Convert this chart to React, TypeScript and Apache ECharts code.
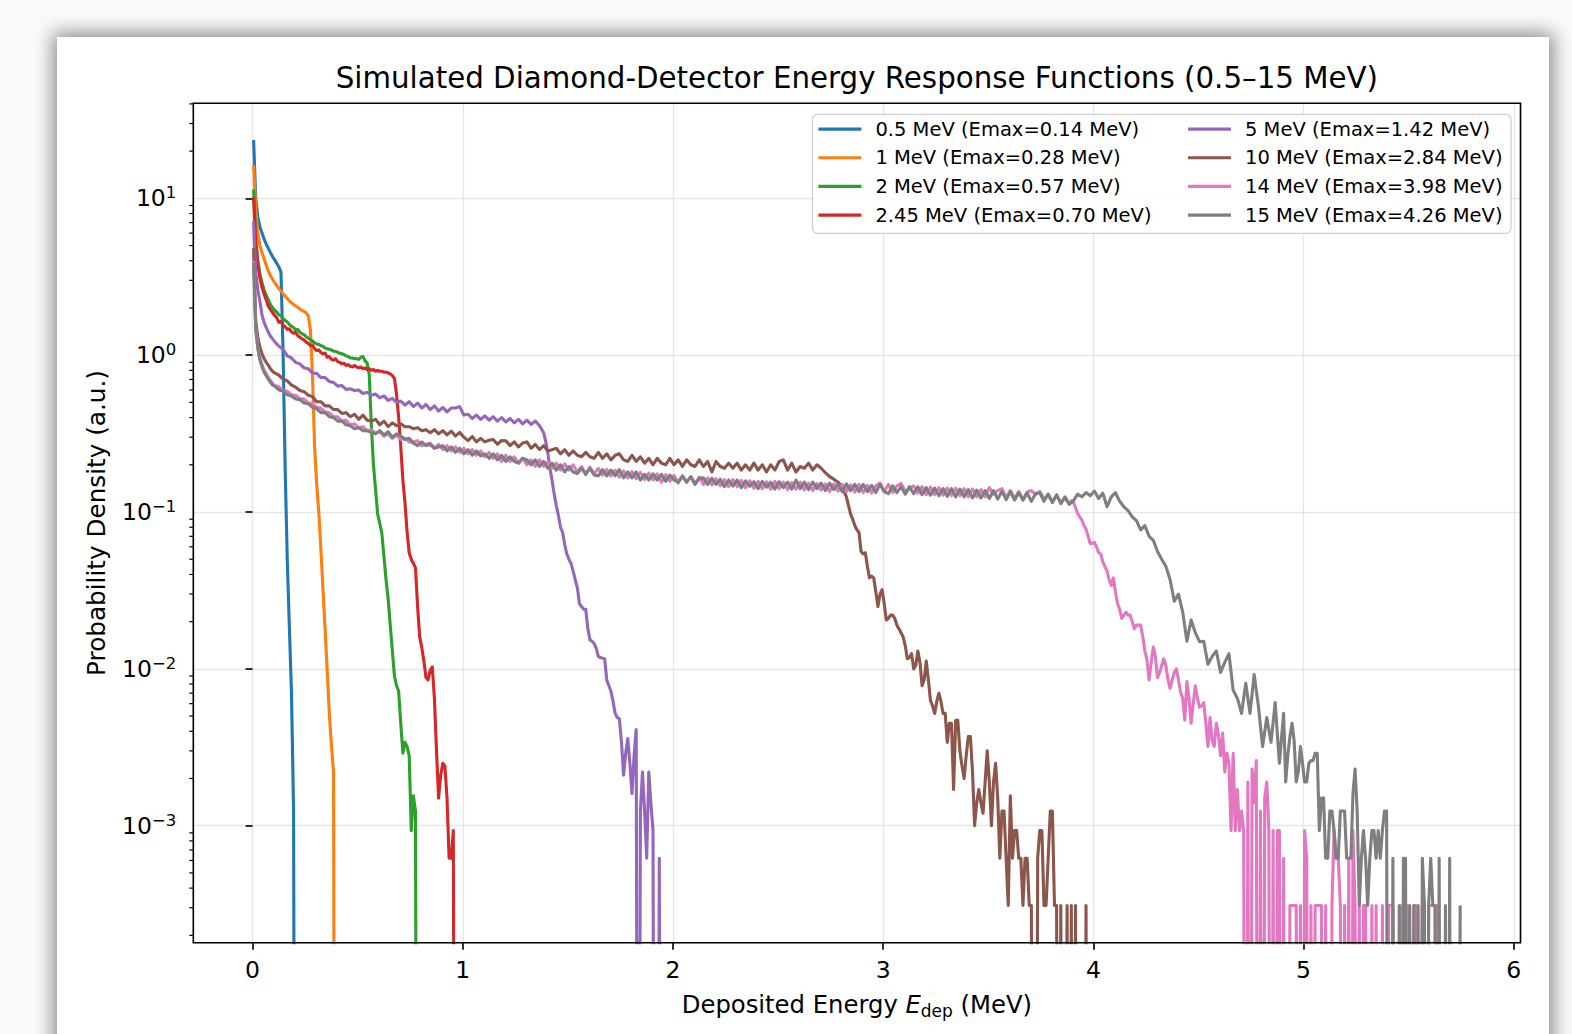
import React, { useEffect, useRef } from "react";
import * as echarts from "echarts";

// [first bin centre (MeV), bin width (MeV), probability densities]; 0 = empty bin
type Segment = [number, number, number[]];

const TITLE = "Simulated Diamond-Detector Energy Response Functions (0.5\u201315 MeV)";
const Y_NAME = "Probability Density (a.u.)";

const SERIES_NAMES = [
  "0.5 MeV (Emax=0.14 MeV)",
  "1 MeV (Emax=0.28 MeV)",
  "2 MeV (Emax=0.57 MeV)",
  "2.45 MeV (Emax=0.70 MeV)",
  "5 MeV (Emax=1.42 MeV)",
  "10 MeV (Emax=2.84 MeV)",
  "14 MeV (Emax=3.98 MeV)",
  "15 MeV (Emax=4.26 MeV)",
];

const X_MIN = -0.282;
const X_MAX = 6.032;
const Y_MIN = 1.795e-4;
const Y_MAX = 40.35;

const E_0_5: Segment[] = [
  [0.005, 0.01, [23.5, 10.0, 7.6, 6.6, 6.0, 5.5, 5.1, 4.8, 4.5, 4.25, 4.05, 3.85, 3.65, 3.4, 1.07, 0.19, 0.05, 0.0184, 0.0071, 0.00126, 0]],
];

const E_1: Segment[] = [
  [0.005, 0.01, [
    16.3, 8.5, 6.0, 5.0, 4.5, 4.1, 3.75, 3.45, 3.2, 3.05,
    2.9, 2.78, 2.66, 2.56, 2.46, 2.38, 2.3, 2.22, 2.16, 2.1,
    2.06, 2.02, 1.97, 1.93, 1.9, 1.86, 1.78, 1.45, 0.75, 0.26,
    0.15, 0.1, 0.058, 0.032, 0.018, 0.0098, 0.0052, 0.0033, 0.0022, 0,
  ]],
];

const E_2: Segment[] = [
  [0.005, 0.01, [
    11.4, 5.5, 4.0, 3.3, 2.9, 2.6, 2.4, 2.25, 2.1, 2.0,
    1.94, 1.88, 1.81, 1.78, 1.72, 1.66, 1.63, 1.57, 1.53, 1.5,
    1.45, 1.46, 1.4, 1.37, 1.35, 1.31, 1.28, 1.26, 1.23, 1.2,
    1.18, 1.17, 1.15, 1.14, 1.11, 1.1, 1.09, 1.08, 1.06, 1.06,
    1.04, 1.03, 1.02, 1.01, 0.99, 0.98, 0.96, 0.96, 0.95, 0.95,
    0.94, 0.97, 0.98, 0.92, 0.89, 0.75, 0.36, 0.2, 0.14, 0.097,
    0.085, 0.073, 0.052, 0.037, 0.028, 0.019, 0.013, 0.009, 0.0078, 0.0072,
    0.0045, 0.0029, 0.0034, 0.0032, 0.0028, 0.00093, 0.00155, 0.00124, 0,
  ]],
];

const E_2_45: Segment[] = [
  [0.005, 0.01, [
    10.2, 5.3, 3.8, 3.1, 2.7, 2.45, 2.25, 2.05, 1.95, 1.87,
    1.79, 1.73, 1.62, 1.64, 1.56, 1.52, 1.46, 1.47, 1.41, 1.38,
    1.4, 1.33, 1.3, 1.27, 1.25, 1.21, 1.19, 1.15, 1.16, 1.1,
    1.07, 1.08, 1.04, 1.02, 1.03, 0.97, 0.98, 0.94, 0.93, 0.95,
    0.91, 0.9, 0.88, 0.89, 0.86, 0.87, 0.85, 0.84, 0.86, 0.84,
    0.83, 0.84, 0.82, 0.83, 0.81, 0.82, 0.8, 0.81, 0.79, 0.8,
    0.79, 0.79, 0.78, 0.78, 0.77, 0.76, 0.74, 0.71, 0.56, 0.4,
    0.26, 0.16, 0.115, 0.075, 0.055, 0.05, 0.047, 0.044, 0.025, 0.016,
    0.0137, 0.0112, 0.0088, 0.0085, 0.0098, 0.0103, 0.0065, 0.003, 0.0015, 0.0021,
    0.0025, 0.0024, 0.0015, 0.00062, 0.00062, 0.00093, 0,
  ]],
];

const E_5: Segment[] = [
  [0.005, 0.01, [7.1, 3.4, 2.6, 2.2, 1.8, 1.62, 1.5, 1.4, 1.32, 1.27]],
  [0.105, 0.02, [
    1.22, 1.14, 1.09, 0.99, 0.96, 0.9, 0.88, 0.83, 0.82, 0.77,
    0.765, 0.72, 0.72, 0.68, 0.67, 0.635, 0.64, 0.605, 0.61, 0.595,
    0.6, 0.57, 0.58, 0.555, 0.565, 0.535, 0.55, 0.515, 0.53, 0.5,
    0.51, 0.48, 0.505, 0.47, 0.495, 0.46, 0.485, 0.45, 0.475, 0.44,
    0.465, 0.435, 0.46, 0.46, 0.47, 0.415, 0.42, 0.395, 0.415, 0.39,
    0.41, 0.385, 0.405, 0.38, 0.4, 0.375, 0.395, 0.37, 0.39, 0.365,
    0.385, 0.362, 0.38, 0.355, 0.32,
  ]],
  [1.395, 0.01, [
    0.28, 0.235, 0.19, 0.158, 0.13, 0.11, 0.095, 0.08, 0.074, 0.062,
    0.054, 0.05, 0.047, 0.042, 0.037, 0.033, 0.026, 0.025, 0.024, 0.024,
    0.018, 0.0153, 0.015, 0.0145, 0.0135, 0.012, 0.0118, 0.0117, 0.0116, 0.0085,
    0.0078, 0.0072, 0.0062, 0.0052, 0.0049, 0.0048, 0.0034, 0.0021, 0.0029, 0.0036,
    0.0025, 0.0016, 0.0028, 0.0041, 0, 0.00124, 0.0022, 0.00124, 0.00062, 0.0022,
    0.0014, 0.00093, 0, 0, 0.00062, 0,
  ]],
];

const E_10: Segment[] = [
  [0.005, 0.01, [4.8, 1.65, 1.3, 1.12, 1.02, 0.95, 0.9, 0.86, 0.82, 0.79]],
  [0.105, 0.02, [
    0.77, 0.745, 0.705, 0.685, 0.645, 0.625, 0.595, 0.585, 0.555, 0.545,
    0.505, 0.505, 0.475, 0.475, 0.45, 0.45, 0.425, 0.43, 0.405, 0.42,
    0.39, 0.415, 0.385, 0.38, 0.39, 0.36, 0.38, 0.35, 0.37, 0.355,
    0.365, 0.35, 0.35, 0.34, 0.345, 0.33, 0.335, 0.32, 0.335, 0.315,
    0.33, 0.31, 0.328, 0.305, 0.322, 0.3, 0.285, 0.303, 0.28, 0.295,
    0.28, 0.287, 0.29, 0.27, 0.286, 0.285, 0.265, 0.28, 0.26, 0.275,
    0.28, 0.255, 0.27, 0.25, 0.265, 0.245, 0.25, 0.255, 0.235, 0.25,
    0.23, 0.245, 0.23, 0.225, 0.24, 0.225, 0.22, 0.24, 0.22, 0.235,
    0.215, 0.23, 0.235, 0.215, 0.21, 0.23, 0.21, 0.225, 0.205, 0.22,
    0.2, 0.22, 0.205, 0.2, 0.22, 0.2, 0.215, 0.195, 0.215, 0.2,
    0.195, 0.215, 0.195, 0.21, 0.18, 0.21, 0.195, 0.19, 0.205, 0.19,
    0.205, 0.185, 0.2, 0.185, 0.205, 0.185, 0.2, 0.18, 0.2, 0.185,
    0.21, 0.215, 0.185, 0.205, 0.18, 0.195, 0.19, 0.205, 0.185, 0.2,
    0.19, 0.178, 0.168, 0.162, 0.155, 0.145, 0.125, 0.097,
  ]],
  [2.855, 0.01, [
    0.09, 0.082, 0.077, 0.074, 0.056, 0.054, 0.055, 0.045, 0.038, 0.039,
    0.038, 0.031, 0.025, 0.03, 0.032, 0.026, 0.0205, 0.021, 0.022, 0.022,
    0.021, 0.019, 0.018, 0.017, 0.016, 0.014, 0.0116, 0.0118, 0.0125, 0.01,
    0.0105, 0.013, 0.011, 0.0078, 0.0085, 0.0112, 0.0085, 0.0063, 0.0058, 0.0052,
    0.0062, 0.007, 0.0062, 0.0052, 0.0052, 0.0034, 0.0045, 0.0045, 0.0017, 0.0047,
    0.0047, 0.003, 0.0024, 0.002, 0.0028, 0.0037, 0.0037, 0.0022, 0.001, 0.0014,
    0.0017, 0.0014, 0.0012, 0.0019, 0.003, 0.0019, 0.001, 0.0019, 0.0025, 0.0015,
    0.00062, 0.00124, 0.00124, 0.00062, 0.00031, 0.00155, 0.00062, 0.00093, 0.00093, 0.00062,
    0.00062, 0.00031, 0.00062, 0.00062, 0.00031, 0.00031, 0, 0, 0.00062, 0.00093,
    0.00093, 0.00031, 0.00031, 0.00062, 0.00124, 0.00124, 0.00031, 0.00031, 0, 0.00031,
    0, 0, 0.00031, 0, 0.00031, 0, 0.00031, 0, 0, 0,
    0, 0.00031, 0,
  ]],
];

const E_14: Segment[] = [
  [0.005, 0.01, [4.0, 1.5, 1.12, 0.96, 0.87, 0.8, 0.76, 0.72, 0.69, 0.66]],
  [0.105, 0.02, [
    0.64, 0.63, 0.595, 0.59, 0.56, 0.555, 0.53, 0.525, 0.495, 0.49,
    0.465, 0.46, 0.435, 0.43, 0.405, 0.405, 0.38, 0.385, 0.36, 0.365,
    0.345, 0.35, 0.33, 0.335, 0.318, 0.325, 0.305, 0.315, 0.295, 0.31,
    0.29, 0.295, 0.28, 0.28, 0.285, 0.265, 0.27, 0.275, 0.255, 0.27,
    0.25, 0.265, 0.245, 0.26, 0.24, 0.255, 0.235, 0.25, 0.23, 0.245,
    0.225, 0.24, 0.22, 0.235, 0.21, 0.23, 0.21, 0.225, 0.205, 0.22,
    0.2, 0.215, 0.195, 0.215, 0.195, 0.21, 0.19, 0.205, 0.185, 0.203,
    0.185, 0.2, 0.18, 0.195, 0.173, 0.193, 0.175, 0.19, 0.172, 0.187,
    0.17, 0.185, 0.167, 0.183, 0.165, 0.181, 0.163, 0.179, 0.161, 0.177,
    0.16, 0.175, 0.155, 0.173, 0.157, 0.171, 0.153, 0.169, 0.155, 0.168,
    0.152, 0.167, 0.15, 0.165, 0.149, 0.163, 0.147, 0.161, 0.145, 0.161,
    0.145, 0.159, 0.143, 0.158, 0.142, 0.157, 0.141, 0.156, 0.14, 0.157,
    0.141, 0.155, 0.139, 0.154, 0.14, 0.155, 0.138, 0.153, 0.137, 0.152,
    0.138, 0.151, 0.135, 0.151, 0.136, 0.15, 0.135, 0.149, 0.134, 0.15,
    0.133, 0.148, 0.132, 0.147, 0.153, 0.135, 0.15, 0.133, 0.147, 0.152,
    0.135, 0.141, 0.147, 0.132, 0.145, 0.129, 0.144, 0.129, 0.143, 0.128,
    0.142, 0.127, 0.142, 0.127, 0.141, 0.125, 0.14, 0.125, 0.139, 0.125,
    0.143, 0.13, 0.137, 0.141, 0.123, 0.137, 0.122, 0.135, 0.12, 0.134,
    0.137, 0.129, 0.135, 0.121, 0.129, 0.116, 0.127, 0.115, 0.122, 0.113,
  ]],
  [3.895, 0.01, [
    0.118, 0.115, 0.107, 0.098, 0.093, 0.089, 0.082, 0.078, 0.07, 0.063,
    0.063, 0.064, 0.06, 0.055, 0.054, 0.048, 0.045, 0.042, 0.037, 0.034,
    0.038, 0.031, 0.026, 0.024, 0.021, 0.022, 0.023, 0.022, 0.022, 0.02,
    0.018, 0.019, 0.019, 0.019, 0.016, 0.013, 0.0114, 0.0085, 0.011, 0.0138,
    0.012, 0.0088, 0.0095, 0.0105, 0.0116, 0.0105, 0.0085, 0.0075, 0.0085, 0.0095,
    0.01, 0.0085, 0.0071, 0.0065, 0.0047, 0.0083, 0.0065, 0.0045, 0.006, 0.0078,
    0.0065, 0.0057, 0.0058, 0.0061, 0.0045, 0.0032, 0.0049, 0.0035, 0.0032, 0.0045,
    0.0038, 0.0028, 0.0039, 0.0022, 0.0029, 0.0025, 0.00093, 0.0029, 0.00093, 0.0017,
    0.00093, 0.00124, 0.00093, 0, 0.0019, 0, 0.0023, 0.0014, 0.0026, 0,
    0.00124, 0, 0.0015, 0.0019, 0.00093, 0, 0.00093, 0, 0.00093, 0.00093,
    0, 0.00062, 0, 0, 0.00031, 0.00031, 0.00031, 0.00031, 0, 0.00031,
    0, 0.00093, 0.00062, 0, 0.00031, 0, 0.00031, 0.00031, 0.00031, 0.00031,
    0, 0.00031, 0, 0, 0.00031, 0.00093, 0.00062, 0.00062, 0.00031, 0,
    0.00031, 0, 0.00062, 0, 0.00093, 0.00031, 0, 0.00031, 0, 0.00031,
    0.00031, 0, 0, 0.00031, 0, 0.00031, 0, 0, 0.00031, 0,
    0, 0.00031, 0.00031, 0.00031, 0, 0, 0, 0.00031, 0, 0,
    0.00031, 0, 0, 0.00031, 0.00031, 0, 0, 0.00031, 0, 0,
    0.00031, 0.00031, 0.00031, 0.00031, 0.00031, 0,
  ]],
];

const E_15: Segment[] = [
  [0.005, 0.01, [3.9, 1.45, 1.1, 0.93, 0.84, 0.78, 0.74, 0.7, 0.67, 0.645]],
  [0.105, 0.02, [
    0.635, 0.6, 0.59, 0.56, 0.55, 0.525, 0.52, 0.495, 0.49, 0.465,
    0.455, 0.43, 0.43, 0.405, 0.4, 0.38, 0.38, 0.36, 0.355, 0.34,
    0.345, 0.33, 0.33, 0.322, 0.315, 0.33, 0.31, 0.325, 0.3, 0.315,
    0.305, 0.29, 0.295, 0.275, 0.265, 0.28, 0.265, 0.27, 0.255, 0.26,
    0.265, 0.245, 0.26, 0.24, 0.255, 0.235, 0.25, 0.23, 0.245, 0.228,
    0.235, 0.22, 0.235, 0.215, 0.23, 0.21, 0.225, 0.21, 0.205, 0.22,
    0.215, 0.2, 0.215, 0.195, 0.21, 0.19, 0.205, 0.185, 0.2, 0.18,
    0.195, 0.18, 0.176, 0.19, 0.175, 0.19, 0.172, 0.17, 0.186, 0.17,
    0.185, 0.17, 0.186, 0.165, 0.18, 0.165, 0.18, 0.16, 0.174, 0.16,
    0.175, 0.16, 0.174, 0.157, 0.172, 0.16, 0.155, 0.17, 0.155, 0.168,
    0.15, 0.164, 0.165, 0.15, 0.164, 0.15, 0.162, 0.145, 0.16, 0.146,
    0.16, 0.143, 0.158, 0.146, 0.156, 0.141, 0.157, 0.144, 0.155, 0.14,
    0.156, 0.143, 0.155, 0.14, 0.16, 0.141, 0.155, 0.139, 0.155, 0.141,
    0.153, 0.137, 0.153, 0.139, 0.151, 0.135, 0.151, 0.137, 0.15, 0.135,
    0.15, 0.135, 0.148, 0.133, 0.15, 0.135, 0.131, 0.147, 0.133, 0.145,
    0.13, 0.145, 0.131, 0.145, 0.129, 0.143, 0.128, 0.142, 0.127, 0.141,
    0.126, 0.141, 0.125, 0.14, 0.125, 0.139, 0.123, 0.138, 0.123, 0.137,
    0.122, 0.137, 0.121, 0.135, 0.12, 0.135, 0.119, 0.133, 0.119, 0.132,
    0.117, 0.131, 0.133, 0.117, 0.13, 0.115, 0.129, 0.113, 0.125, 0.112,
    0.118, 0.13, 0.125, 0.133, 0.127, 0.136, 0.122, 0.132, 0.108, 0.125,
    0.133, 0.117, 0.108, 0.102, 0.093,
  ]],
  [4.205, 0.02, [
    0.088, 0.077, 0.082, 0.07, 0.066, 0.056, 0.05, 0.045, 0.037, 0.027,
    0.03, 0.023, 0.015, 0.0205, 0.017, 0.0149, 0.015, 0.0107, 0.012, 0.013,
    0.0095, 0.011, 0.0125, 0.0073, 0.0065, 0.0052, 0.0081, 0.0052, 0.0092, 0.0058,
    0.0032, 0.0049, 0.0034, 0.0061, 0.0025, 0.0052,
  ]],
  [4.915, 0.01, [
    0.0019, 0.0028, 0.0037, 0.0045, 0.0035, 0.0019, 0.0022, 0.0032, 0.0025, 0.0019,
    0.0019, 0.0025, 0.0026, 0.0026, 0.0029, 0.0029, 0.00093, 0.0015, 0.0015, 0.00062,
    0.00062, 0.00124, 0.00124, 0.00093, 0.00062, 0.00062, 0.00124, 0.00124, 0.00124, 0.00062,
    0.00062, 0.00062, 0.0016, 0.0023, 0.00124, 0.00031, 0.00062, 0.00093, 0.00062, 0.00031,
    0.00062, 0.00093, 0.00093, 0.00062, 0.00093, 0.00062, 0.00093, 0.00124, 0.00124, 0,
    0, 0.00062, 0, 0, 0.00031, 0, 0.00062, 0.00062, 0, 0.00031,
    0, 0.00031, 0, 0.00031, 0, 0.00062, 0.00031, 0, 0.00031, 0.00062,
    0.00031, 0.00031, 0, 0.00062, 0, 0, 0.00031, 0, 0.00062, 0,
    0, 0, 0, 0.00031,
  ]],
];

const SERIES_DATA: Segment[][] = [E_0_5, E_1, E_2, E_2_45, E_5, E_10, E_14, E_15];
const COLORS = ["#1f77b4", "#ff7f0e", "#2ca02c", "#d62728", "#9467bd", "#8c564b", "#e377c2", "#7f7f7f"];

// layout (page pixels)
const W = 1572;
const H = 1034;
const GRID = { left: 193.3, top: 103.3, right: 51.5, bottom: 91.3 };
const FONT = "DejaVu Sans";
const EMPTY_BIN = 1e-8; // empty bins sit far below the visible log range (clipped)

function expand(segs: Segment[]): [number, number][] {
  const out: [number, number][] = [];
  for (const [x0, dx, vals] of segs) {
    vals.forEach((v, i) => {
      out.push([Math.round((x0 + i * dx) * 1000) / 1000, v > 0 ? v : EMPTY_BIN]);
    });
  }
  return out;
}

const SUPER_MINUS = "\u2212";

function buildOption(): any {
  const legendCol = (col: number) => ({
    data: SERIES_NAMES.slice(col * 4, col * 4 + 4),
    orient: "vertical",
    left: col === 0 ? 818.4 : 1188,
    top: 114.7,
    padding: 0,
    itemGap: 0,
    icon: "rect",
    itemWidth: 43,
    itemHeight: 3.2,
    itemStyle: { borderWidth: 0 },
    selectedMode: false,
    z: 5,
    textStyle: {
      fontFamily: FONT,
      fontSize: 19.5,
      color: "#000",
      lineHeight: 28.7,
      padding: [0, 0, 0, 9],
    },
  });

  return {
    animation: false,
    textStyle: { fontFamily: FONT },
    title: {
      text: TITLE,
      left: (GRID.left + (W - GRID.right)) / 2,
      top: 63.5,
      textAlign: "center",
      padding: 0,
      textStyle: { fontFamily: FONT, fontSize: 29.3, fontWeight: "normal", color: "#000" },
    },
    grid: { ...GRID, containLabel: false, outerBoundsMode: "none", show: false },
    legend: [legendCol(0), legendCol(1)],
    xAxis: {
      type: "value",
      min: X_MIN,
      max: X_MAX,
      splitNumber: 6,
      axisLine: { show: false },
      axisTick: { show: true, length: 7, lineStyle: { color: "#000", width: 1.6 } },
      axisLabel: {
        showMinLabel: false,
        showMaxLabel: false,
        margin: 15,
        fontFamily: FONT,
        fontSize: 23.5,
        color: "#000",
      },
      splitLine: { show: true, lineStyle: { color: "#e6e6e6", width: 1.4 } },
      name: "{a|Deposited Energy\u00a0}{i|E}{s|dep}{a|\u00a0(MeV)}",
      nameLocation: "middle",
      nameGap: 47,
      nameTextStyle: {
        fontFamily: FONT,
        fontSize: 24.3,
        color: "#000",
        rich: {
          a: { fontFamily: FONT, fontSize: 24.3, color: "#000", lineHeight: 30 },
          i: { fontFamily: FONT, fontSize: 24.3, color: "#000", lineHeight: 30, fontStyle: "italic" },
          s: { fontFamily: FONT, fontSize: 17, color: "#000", lineHeight: 17, verticalAlign: "bottom" },
        },
      },
    },
    yAxis: {
      type: "log",
      logBase: 10,
      min: Y_MIN,
      max: Y_MAX,
      axisLine: { show: false },
      axisTick: { show: true, length: 7, lineStyle: { color: "#000", width: 1.6 } },
      axisLabel: {
        showMinLabel: false,
        showMaxLabel: false,
        margin: 17,
        formatter: (v: number) => {
          const e = Math.round(Math.log10(v));
          const s = e < 0 ? SUPER_MINUS + String(-e) : String(e);
          return "{b|10}{p|" + s + "}";
        },
        rich: {
          b: { fontFamily: FONT, fontSize: 23.5, color: "#000", lineHeight: 28 },
          p: { fontFamily: FONT, fontSize: 16.5, color: "#000", lineHeight: 16, verticalAlign: "top" },
        },
      },
      splitLine: { show: true, lineStyle: { color: "#e6e6e6", width: 1.4 } },
      name: Y_NAME,
      nameLocation: "middle",
      nameGap: 84,
      nameTextStyle: { fontFamily: FONT, fontSize: 24.7, color: "#000" },
    },
    series: SERIES_DATA.map((segs, i) => ({
      type: "line",
      name: SERIES_NAMES[i],
      data: expand(segs),
      showSymbol: false,
      symbol: "none",
      clip: true,
      silent: true,
      z: 2,
      color: COLORS[i],
      itemStyle: { color: COLORS[i] },
      lineStyle: { color: COLORS[i], width: 3.1, join: "round" },
      emphasis: { disabled: true },
    })),
  };
}

export default function App() {
  const ref = useRef<HTMLDivElement>(null);

  useEffect(() => {
    const el = ref.current;
    if (!el) return;
    const chart = echarts.init(el, null, { renderer: "svg" });
    chart.setOption(buildOption());

    const minor: any[] = [];
    for (let e = -4; e <= 1; e++) {
      for (let m = 2; m <= 9; m++) {
        const v = m * Math.pow(10, e);
        if (v <= Y_MIN || v >= Y_MAX) continue;
        const py = chart.convertToPixel({ yAxisIndex: 0 }, v) as unknown as number;
        minor.push({
          type: "line",
          silent: true,
          z: 10,
          shape: { x1: GRID.left - 4, y1: py, x2: GRID.left, y2: py },
          style: { stroke: "#000", lineWidth: 1.2 },
        });
      }
    }
    const frame = {
      type: "rect",
      silent: true,
      z: 10,
      shape: { x: GRID.left, y: GRID.top, width: W - GRID.left - GRID.right, height: H - GRID.top - GRID.bottom },
      style: { fill: "none", stroke: "#000", lineWidth: 1.6 },
    };
    const legendBox = {
      type: "rect",
      silent: true,
      z: 3,
      shape: { x: 812.5, y: 114.3, width: 698.5, height: 119, r: 5 },
      style: { fill: "rgba(255,255,255,0.85)", stroke: "#d0d0d0", lineWidth: 1.3 },
    };
    chart.setOption({ graphic: { elements: [legendBox, frame, ...minor] } });

    return () => chart.dispose();
  }, []);

  return (
    <div style={{ position: "fixed", left: 0, top: 0, width: W, height: H, overflow: "hidden", background: "#fafafa" }}>
      <div
        style={{
          position: "absolute",
          left: 57,
          top: 37,
          width: 1492,
          height: 1100,
          background: "#ffffff",
          boxShadow: "0 0 18px 4px rgba(0,0,0,0.45)",
        }}
      />
      <div ref={ref} style={{ position: "absolute", left: 0, top: 0, width: W, height: H }} />
    </div>
  );
}
